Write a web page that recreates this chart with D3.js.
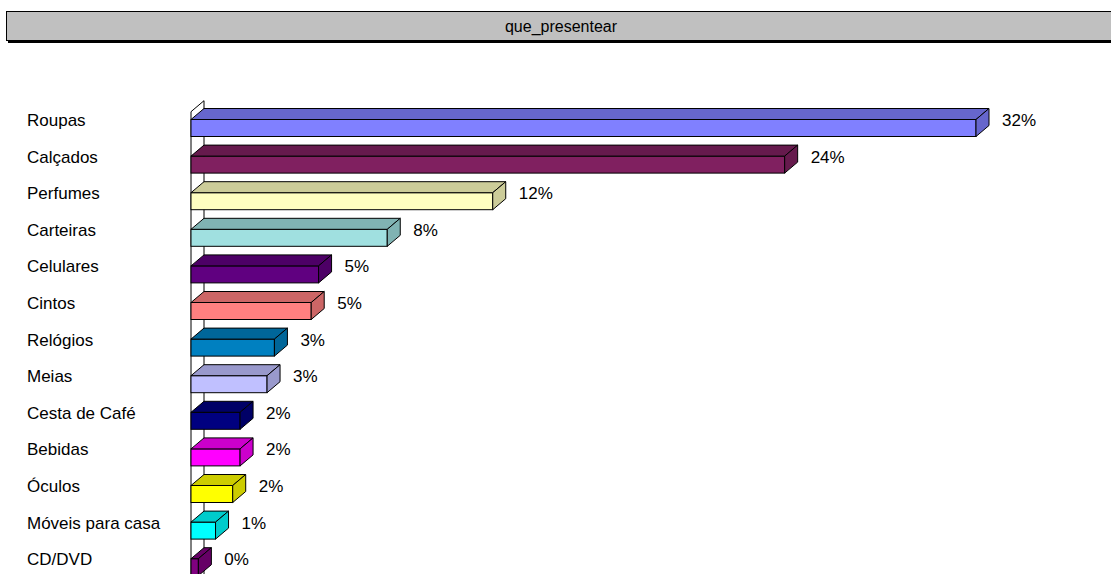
<!DOCTYPE html>
<html lang="en">
<head>
    <meta charset="UTF-8">
    <title>que_presentear</title>
    <script src="https://d3js.org/d3.v7.min.js"></script>
    <style>
        html, body {
            margin: 0;
            padding: 0;
            background: white;
            overflow: hidden;
        }
        svg {
            display: block;
            font-family: "Liberation Sans", Arial, sans-serif;
        }
    </style>
</head>
<body>
    <svg id="chart"></svg>

    <script>
        // chart data (percent of answers)
        const chartTitle = "que_presentear";
        const categories = ["Roupas", "Calçados", "Perfumes", "Carteiras", "Celulares", "Cintos",
            "Relógios", "Meias", "Cesta de Café", "Bebidas", "Óculos", "Móveis para casa", "CD/DVD"];
        const values = [32.0, 24.2, 12.3, 8.0, 5.2, 4.9, 3.4, 3.1, 2.0, 2.0, 1.7, 1.0, 0.3];
        const colors = ["#8080ff", "#802060", "#ffffc0", "#a0e0e0", "#600080", "#ff8080",
            "#0080c0", "#c0c0ff", "#000080", "#ff00ff", "#ffff00", "#00ffff", "#800080"];

        const width = 1111, height = 574;
        const depthX = 13, depthY = -11; // 3d offset of the back face
        const barH = 17;

        const svg = d3.select("#chart")
            .attr("width", width)
            .attr("height", height);

        // title box with its shadow
        svg.append("rect")
            .attr("x", 8).attr("y", 13)
            .attr("width", 1110).attr("height", 30)
            .attr("fill", "#000");
        svg.append("rect")
            .attr("x", 6.5).attr("y", 11.5)
            .attr("width", 1110).attr("height", 29)
            .attr("fill", "#c0c0c0")
            .attr("stroke", "#000");
        svg.append("text")
            .attr("x", 561).attr("y", 32)
            .attr("text-anchor", "middle")
            .attr("font-size", 16)
            .text(chartTitle);

        const x = d3.scaleLinear().domain([0, 32]).range([191, 976]);
        const y = d3.scaleBand().domain(categories)
            .range([109.7, 109.7 + 36.6 * categories.length]);
        const off = (y.bandwidth() - barH) / 2;

        // side wall of the category axis
        const wallTop = y(categories[0]) + 2;
        svg.append("path")
            .attr("d", `M${x(0)},${height + 20} L${x(0)},${wallTop} L${x(0) + depthX},${wallTop + depthY} L${x(0) + depthX},${height + 20}`)
            .attr("fill", "#fff")
            .attr("stroke", "#000");

        const g = svg.selectAll("g.bar")
            .data(categories)
            .join("g")
            .attr("class", "bar");

        // top and side faces are the fill at ~80%
        const shade = c => d3.rgb(c).darker(0.63).formatHex();

        // front face
        g.append("rect")
            .attr("x", x(0))
            .attr("y", d => y(d) + off)
            .attr("width", (d, i) => x(values[i]) - x(0))
            .attr("height", barH)
            .attr("fill", (d, i) => colors[i])
            .attr("stroke", "#000");

        // top face
        g.append("path")
            .attr("d", (d, i) => {
                const x0 = x(0), x1 = x(values[i]), t = y(d) + off;
                return `M${x0},${t} L${x0 + depthX},${t + depthY} L${x1 + depthX},${t + depthY} L${x1},${t} Z`;
            })
            .attr("fill", (d, i) => shade(colors[i]))
            .attr("stroke", "#000");

        // right side face
        g.append("path")
            .attr("d", (d, i) => {
                const x1 = x(values[i]), t = y(d) + off;
                return `M${x1},${t} L${x1 + depthX},${t + depthY} L${x1 + depthX},${t + depthY + barH} L${x1},${t + barH} Z`;
            })
            .attr("fill", (d, i) => shade(colors[i]))
            .attr("stroke", "#000");

        // category labels
        g.append("text")
            .attr("x", 27)
            .attr("y", d => y(d) + off + 6.5)
            .attr("font-size", 17)
            .text(d => d);

        // value labels
        g.append("text")
            .attr("x", (d, i) => x(values[i]) + depthX + 13)
            .attr("y", d => y(d) + off + 6.5)
            .attr("font-size", 17)
            .text((d, i) => Math.round(values[i]) + "%");
    </script>
</body>
</html>
